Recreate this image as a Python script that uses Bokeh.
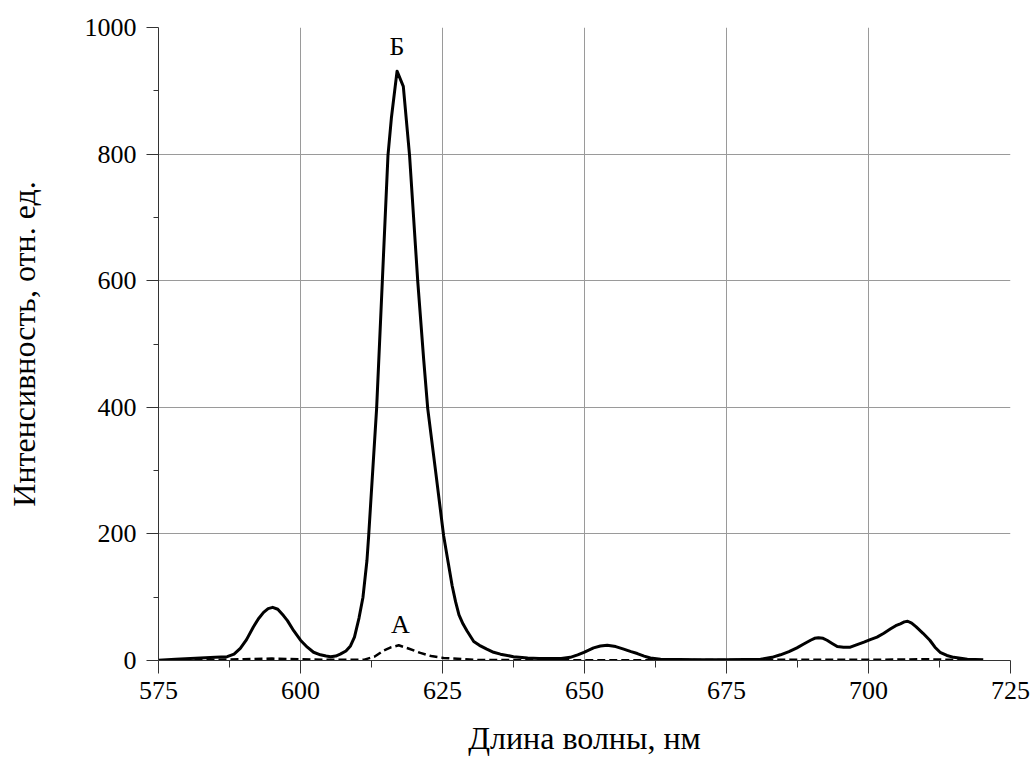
from bokeh.plotting import figure
from bokeh.models import Range1d, FixedTicker, Label
from bokeh.embed import file_html
from bokeh.resources import INLINE

# Curve Б (solid)
wl_b = [575, 578, 582.4, 585, 587.1, 588.3, 589.4, 590.5, 591.7, 592.6, 593.5, 594.3, 595.1,
        596.0, 597.0, 597.7, 598.8, 600, 601.2, 602.3, 603.5, 604.5, 605.3, 606.2, 607, 608,
        608.8, 609.5, 610.3, 611.0, 611.7, 612.0, 613.4, 614.4, 615.4, 616.0, 617.0, 618.1,
        619.2, 620.65, 621.7, 622.4, 623.8, 625.2, 626.0, 626.7, 627.3, 627.9, 628.6, 629.3,
        630.5, 631.5, 632.8, 634, 635.2, 637.5, 640, 642, 645.9, 647.5, 648.8, 649.9, 651.6,
        652.8, 654.0, 655.5, 656.9, 658.2, 659.3, 660.5, 661.6, 663.4, 670, 675,
        681, 683, 684.5, 686, 687.4, 688.6, 689.8, 690.5, 691.2, 692.0, 692.7, 693.6, 694.5,
        695.6, 696.8, 698, 699.2, 700.3, 701.5, 702.7, 703.9, 704.8, 705.6, 706.3, 706.9,
        707.6, 708.4, 709.6, 710.8, 711.7, 712.6, 713.8, 715.0, 717.4, 720.2]
int_b = [0.5, 2, 4, 5, 6, 10, 19, 33, 53, 66, 76, 82, 84,
         81, 71, 63, 47, 32, 21, 13, 9, 7, 6, 7, 10, 15,
         23, 37, 67, 100, 158, 197, 398, 598, 798, 857, 931, 907,
         798, 598, 474, 398, 298, 197, 155, 118, 93, 72, 58, 47,
         30, 24, 18, 13, 10, 6, 4, 3, 3, 5, 9, 13, 20,
         23, 24, 22, 18, 14, 11, 7, 4, 2, 1, 1,
         2, 5, 9, 14, 20, 26, 32, 35, 36, 35, 32, 27, 22,
         21, 21, 25, 29, 33, 37, 43, 50, 55, 58, 61, 62,
         59, 53, 43, 32, 21, 13, 8, 5, 2, 1]

# Curve А (dashed)
wl_a = [575, 585, 590, 595, 600, 605, 611.1, 613, 614.7, 616, 617.3, 619, 621.1, 623, 625.2,
        630.5, 640, 660, 680, 700, 710, 715, 718]
int_a = [0, 1, 2, 3, 2, 1, 1, 6, 16, 21, 24, 19, 12, 7, 4,
         1, 0.5, 0.5, 1, 1, 2, 1, 0.5]

x_ticks = [575, 600, 625, 650, 675, 700, 725]
x_minor = [587.5, 612.5, 637.5, 662.5, 687.5, 712.5]
y_ticks = [0, 200, 400, 600, 800, 1000]
y_minor = [100, 300, 500, 700, 900]

x_label = "Длина волны, нм"
y_label = "Интенсивность, отн. ед."

FONT = "Liberation Serif"

p = figure(width=1032, height=760, output_backend="svg", toolbar_location=None,
           x_range=Range1d(575, 725), y_range=Range1d(0, 1000),
           min_border_left=158, min_border_right=22, min_border_top=27,
           min_border_bottom=100)
p.outline_line_color = None
p.background_fill_color = "white"
p.border_fill_color = "white"

p.xaxis.ticker = FixedTicker(ticks=x_ticks, minor_ticks=x_minor)
p.yaxis.ticker = FixedTicker(ticks=y_ticks, minor_ticks=y_minor)
p.xgrid.ticker = FixedTicker(ticks=x_ticks[1:-1])
p.ygrid.ticker = FixedTicker(ticks=y_ticks[1:-1])
for g in (p.xgrid, p.ygrid):
    g.grid_line_color = "#9a9a9a"
    g.grid_line_width = 1

for ax in (p.xaxis, p.yaxis):
    ax.axis_line_color = "#333333"
    ax.axis_line_width = 1
    ax.major_tick_line_color = "#333333"
    ax.minor_tick_line_color = "#333333"
    ax.major_tick_in = 0
    ax.minor_tick_in = 0
    ax.major_label_text_font = FONT
    ax.major_label_text_font_size = "26px"
    ax.major_label_text_color = "black"
    ax.axis_label_text_font = FONT
    ax.axis_label_text_font_size = "32px"
    ax.axis_label_text_font_style = "normal"
    ax.axis_label_text_color = "black"

p.xaxis.major_tick_out = 13
p.xaxis.minor_tick_out = 7
p.xaxis.major_label_standoff = 8
p.xaxis.axis_label = x_label
p.xaxis.axis_label_standoff = 18

p.yaxis.major_tick_out = 12
p.yaxis.minor_tick_out = 5
p.yaxis.major_label_standoff = 10
p.yaxis.major_label_orientation = "horizontal"
p.yaxis.axis_label = y_label
p.yaxis.axis_label_standoff = 40

p.line(wl_b, int_b, line_width=3, line_color="black", line_join="round")
p.line(wl_a, int_a, line_width=2.5, line_color="black", line_dash="8 4")

p.add_layout(Label(x=617, y=970, text="Б", text_font=FONT, text_font_size="26px",
                   text_align="center", text_baseline="middle", text_color="black"))
p.add_layout(Label(x=617.6, y=57, text="А", text_font=FONT, text_font_size="26px",
                   text_align="center", text_baseline="middle", text_color="black"))

open("out.html", "w").write(file_html(p, INLINE))
